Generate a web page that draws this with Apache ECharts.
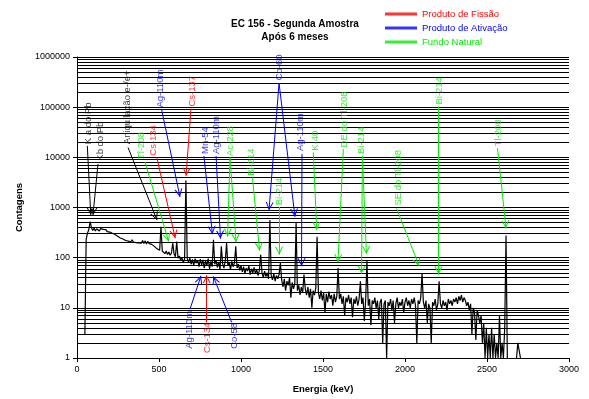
<!DOCTYPE html>
<html><head><meta charset="utf-8">
<script src="https://cdn.jsdelivr.net/npm/echarts@6/dist/echarts.min.js"></script>
<style>html,body{margin:0;padding:0;background:#fff}#c{width:589px;height:399px}</style>
</head><body><div id="c"></div>
<script>
// ---------- texts ----------
const titleLines = ['EC 156 - Segunda Amostra', 'Após 6 meses'];
const xAxisName = 'Energia (keV)';
const yAxisName = 'Contagens';
const xTicks = [0, 500, 1000, 1500, 2000, 2500, 3000];
const yTicks = [1, 10, 100, 1000, 10000, 100000, 1000000];
const minorMultipliers = [2, 3, 4, 5, 6, 7, 8, 9];

const legendGroups = [
  { key: 'fission', name: 'Produto de Fissão', color: '#ff0000' },
  { key: 'activation', name: 'Produto de Ativação', color: '#0000ff' },
  { key: 'natural', name: 'Fundo Natural', color: '#00ee00' }
];

// ---------- spectrum (channel calibration: energy = startKeV + stepKeV * i) ----------
const startKeV = 48, stepKeV = 8;
const counts = [
  3, 235, 310, 360, 520, 395, 350, 385, 342, 378,        // 48
  372, 340, 380, 348, 366, 336, 362, 330, 352, 324,      // 128
  338, 306, 322, 290, 300, 268, 276, 246, 262, 236,      // 208
  248, 220, 238, 214, 232, 208, 228, 204, 222, 200,      // 288
  218, 196, 214, 194, 220, 192, 216, 188, 212, 190,      // 368
  206, 184, 196, 168, 176, 150, 162, 140, 415, 136,      // 448
  140, 120, 136, 116, 130, 112, 124, 195, 118, 104,      // 528
  210, 98, 108, 90, 100, 80, 94, 3460, 96, 80,           // 608
  98, 74, 92, 70, 96, 78, 88, 66, 94, 72,                // 688
  90, 62, 86, 70, 96, 60, 84, 66, 226, 74,               // 768
  88, 64, 82, 58, 168, 76, 62, 86, 195, 70,              // 848
  80, 58, 84, 66, 78, 168, 62, 74, 56, 70,               // 928
  52, 66, 48, 62, 54, 68, 46, 60, 50, 64,                // 1008
  48, 58, 44, 56, 114, 50, 40, 54, 42, 50,               // 1088
  38, 560, 44, 36, 48, 34, 44, 38, 46, 78,               // 1168
  36, 26, 38, 22, 34, 28, 40, 16, 32, 24,                // 1248
  30, 500, 22, 28, 18, 26, 20, 46, 24, 18,               // 1328
  26, 16, 24, 10, 22, 18, 25, 262, 20, 15,               // 1408
  22, 14, 20, 8, 19, 13, 21, 15, 18, 11,                 // 1488
  19, 13, 17, 62, 15, 19, 12, 17, 7, 16,                 // 1568
  13, 18, 12, 16, 6.5, 15, 12, 17, 11, 15,               // 1648
  34, 12, 16, 5.5, 14, 88, 11, 15, 4.5, 14,              // 1728
  12, 16, 10, 14, 6, 13, 15, 2, 12, 14,                  // 1808
  1, 13, 11, 15, 9, 14, 5, 12, 16, 10,                   // 1888
  13, 11, 15, 8, 13, 16, 11, 14, 10, 15,                 // 1968
  12, 16, 11, 2, 14, 12, 16, 48, 13, 10,                 // 2048
  14, 5, 12, 10, 2, 13, 11, 15, 9, 12,                   // 2128
  34, 12, 10, 14, 11, 13, 9, 15, 12, 14,                 // 2208
  11, 15, 13, 16, 12, 17, 14, 18, 13, 16,                // 2288
  14, 11, 13, 9, 12, 3, 10, 8, 2.3, 9,                   // 2368
  7, 5, 7, 2, 5, 1, 4, 1, 3, 1,                          // 2448
  4, 1, 3, 1, 2, 1, 7, 1, 2, 1,                          // 2528
  4, 276, 1, null, null, null, null, null, null, 1,      // 2608
  2, 2, 1                                                // 2688
];

// ---------- annotations: label anchor [keV, counts] and arrows [[from],[to]] ----------
const blackNotes = [
  { t: 'K a do Pb', at: [67, 18300], arrows: [[[63, 16950], [84, 705]]] },
  { t: 'Kb do Pb', at: [144.5, 8570], arrows: [[[128, 7380], [97.5, 705]]] },
  { t: 'Aniquilação e-/e+', at: [306.7, 18300], arrows: [[[311, 15770], [488, 561]]] }
];
const fissionNotes = [
  { t: 'Cs-134', at: [465, 10770], arrows: [[[486, 10140], [599, 244]]] },
  { t: 'Cs-137', at: [703, 103000], arrows: [[[695, 94000], [665, 4280]]] },
  { t: 'Cs-134', at: [797, 1.255], arrows: [[[791, 5.13], [791, 44.5]]] }
];
const activationNotes = [
  { t: 'Ag-110m', at: [510, 98400], arrows: [[[516, 89900], [628, 1626]]] },
  { t: 'Mn-54', at: [780, 11640], arrows: [[[774, 10620], [826, 293]]] },
  { t: 'Ag-110m', at: [848, 11640], arrows: [[[848, 10620], [875, 239]]] },
  { t: 'Co-60', at: [1232, 343600], arrows: [[[1232, 302700], [1171, 885]], [[1232, 302700], [1329, 655]]] },
  { t: 'Ag-110m', at: [1364, 13330], arrows: [[[1372, 11640], [1369, 67.5]]] },
  { t: 'Ag-110m', at: [685, 1.526], arrows: [[[689, 9.4], [756, 43.5]]] },
  { t: 'Co-58', at: [957, 1.526], arrows: [[[943, 5.13], [831, 42.5]]] }
];
const naturalNotes = [
  { t: 'Tl-208', at: [392, 9270], arrows: [[[414.6, 8090], [559, 210]]] },
  { t: 'Ac-228', at: [933, 10620], arrows: [[[933, 9930], [918, 262]], [[933, 9930], [970, 204]]] },
  { t: 'Bi-214', at: [1065, 4280], arrows: [[[1070, 4000], [1113, 138]]] },
  { t: 'Bi-214', at: [1232, 1110], arrows: [[[1232, 1032], [1232, 114]]] },
  { t: 'K-40', at: [1455, 13520], arrows: [[[1441, 12560], [1462, 356]]] },
  { t: 'DE do Tl-208', at: [1630, 15770], arrows: [[[1624, 14590], [1591, 81]]] },
  { t: 'Bi-214', at: [1735, 11640], arrows: [[[1740, 10620], [1735, 47.6]], [[1740, 10620], [1765, 118]]] },
  { t: 'SE do Tl-208', at: [1959, 1095], arrows: [[[1949, 955], [2087, 67.5]]] },
  { t: 'Bi-214', at: [2207, 112700], arrows: [[[2204, 103000], [2204, 46.1]]] },
  { t: 'Tl-208', at: [2569, 16520], arrows: [[[2564, 15280], [2616, 385]]] }
];

// ---------- build ----------
const FONT = '"Liberation Sans", Arial, Helvetica, sans-serif';
const chevron = 'path://M5,10 L10,20 L8.6,20 L5,12.6 L1.4,20 L0,20 Z M5,0 L5,0.01';

const spectrumData = counts.map((c, i) => [startKeV + stepKeV * i, c]);
const minorGrid = [];
for (let d = 0; d < yTicks.length - 1; d++) {
  minorMultipliers.forEach(m => minorGrid.push(m * yTicks[d]));
}

function noteSeries(name, color, notes) {
  return {
    type: 'scatter', name: name, z: 6, silent: true, animation: false,
    symbolSize: 1, itemStyle: { color: 'rgba(0,0,0,0)' },
    data: notes.map(n => ({ value: n.at, name: n.t })),
    label: {
      show: true, position: 'inside', formatter: p => p.name,
      rotate: 90, align: 'left', verticalAlign: 'middle',
      color: color, fontSize: 9.5, fontFamily: FONT
    },
    markLine: {
      silent: true, animation: false,
      symbol: ['none', chevron], symbolSize: [8, 16],
      lineStyle: { color: color, width: 1, type: 'solid' },
      label: { show: false },
      emphasis: { disabled: true },
      data: notes.flatMap(n => n.arrows.map(a => [{ coord: a[0] }, { coord: a[1] }]))
    }
  };
}

const groupNotes = { fission: fissionNotes, activation: activationNotes, natural: naturalNotes };

const chart = echarts.init(document.getElementById('c'), null, { renderer: 'canvas' });
chart.setOption({
  animation: false,
  backgroundColor: '#fff',
  textStyle: { fontFamily: FONT },
  title: {
    text: titleLines.join('\n'), left: 295, top: 17.5, padding: 0, textAlign: 'center',
    textStyle: { fontSize: 10, fontWeight: 'bold', color: '#000', lineHeight: 13, fontFamily: FONT }
  },
  legend: {
    orient: 'vertical', left: 385, top: 8, padding: 0, itemGap: 2,
    itemWidth: 32, itemHeight: 3, icon: 'rect', selectedMode: false,
    textStyle: { fontSize: 9.5, lineHeight: 12, fontFamily: FONT },
    data: legendGroups.map(g => ({ name: g.name, itemStyle: { color: g.color }, textStyle: { color: g.color } }))
  },
  grid: { left: 77, right: 20, top: 57, bottom: 38, containLabel: false },
  xAxis: {
    type: 'value', min: xTicks[0], max: xTicks[xTicks.length - 1], interval: xTicks[1] - xTicks[0],
    splitLine: { show: false },
    axisLine: { lineStyle: { color: '#000', width: 1 } },
    axisTick: { length: 4, lineStyle: { color: '#000' } },
    axisLabel: { color: '#000', fontSize: 9, margin: 7, fontFamily: FONT, formatter: v => String(v) },
    name: xAxisName, nameLocation: 'middle', nameGap: 26,
    nameTextStyle: { fontWeight: 'bold', fontSize: 9.5, color: '#000', fontFamily: FONT }
  },
  yAxis: {
    type: 'log', logBase: 10, min: yTicks[0], max: yTicks[yTicks.length - 1], splitNumber: 6,
    splitLine: { show: true, lineStyle: { color: '#000', width: 1 } },
    axisLine: { show: true, lineStyle: { color: '#000', width: 1 } },
    axisTick: { show: true, length: 4, lineStyle: { color: '#000' } },
    axisLabel: { color: '#000', fontSize: 9, margin: 7, fontFamily: FONT, formatter: v => String(Math.round(v)) },
    name: yAxisName, nameLocation: 'middle', nameGap: 46,
    nameTextStyle: { fontWeight: 'bold', fontSize: 9.5, color: '#000', fontFamily: FONT }
  },
  series: [
    {
      type: 'line', name: 'Espectro', z: 3, silent: true, animation: false,
      data: spectrumData, showSymbol: false, symbol: 'none', connectNulls: false,
      lineStyle: { color: '#000', width: 1.2 },
      markLine: {
        silent: true, animation: false, symbol: ['none', 'none'],
        label: { show: false }, emphasis: { disabled: true },
        lineStyle: { color: '#000', width: 1, type: 'solid' },
        data: minorGrid.map(v => ({ yAxis: v }))
      }
    },
    noteSeries('Anotações', '#000000', blackNotes)
  ].concat(legendGroups.map(g => noteSeries(g.name, g.color, groupNotes[g.key])))
});
</script>
</body></html>
